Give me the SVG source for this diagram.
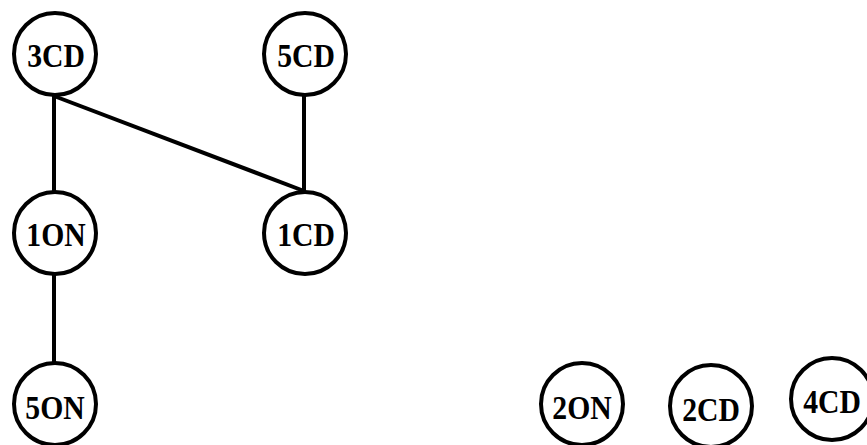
<svg xmlns="http://www.w3.org/2000/svg" width="867" height="445" viewBox="0 0 867 445">
<style>
.node circle{fill:#fff;stroke:#000;stroke-width:4}
.node text{font-family:"Liberation Serif","Times New Roman",serif;font-weight:bold;font-size:33px;fill:#000;text-anchor:middle;dominant-baseline:central}
.edges line{stroke:#000;stroke-width:4}
</style>
<rect width="867" height="445" fill="#fff"/>
<g id="edges" class="edges">
<line x1="54" y1="96" x2="54" y2="192"/>
<line x1="54" y1="96" x2="304" y2="191"/>
<line x1="304" y1="96" x2="304" y2="191"/>
<line x1="54" y1="275" x2="54" y2="362"/>
</g>
<g id="n3CD" class="node"><circle cx="55" cy="54" r="41"/><text transform="translate(56,56) scale(0.9,1)">3CD</text></g>
<g id="n5CD" class="node"><circle cx="305" cy="54" r="41"/><text transform="translate(306,56) scale(0.9,1)">5CD</text></g>
<g id="n1ON" class="node"><circle cx="55" cy="233" r="41"/><text transform="translate(56,235) scale(0.9,1)">1ON</text></g>
<g id="n1CD" class="node"><circle cx="305" cy="233" r="41"/><text transform="translate(306,235) scale(0.9,1)">1CD</text></g>
<g id="n5ON" class="node"><circle cx="55" cy="404" r="41"/><text transform="translate(55,408) scale(0.9,1)">5ON</text></g>
<g id="n2ON" class="node"><circle cx="582" cy="404" r="41"/><text transform="translate(582,408) scale(0.9,1)">2ON</text></g>
<g id="n2CD" class="node"><circle cx="711" cy="406" r="41"/><text transform="translate(711,410) scale(0.9,1)">2CD</text></g>
<g id="n4CD" class="node"><circle cx="832" cy="399" r="41"/><text transform="translate(832,402) scale(0.9,1)">4CD</text></g>
</svg>
